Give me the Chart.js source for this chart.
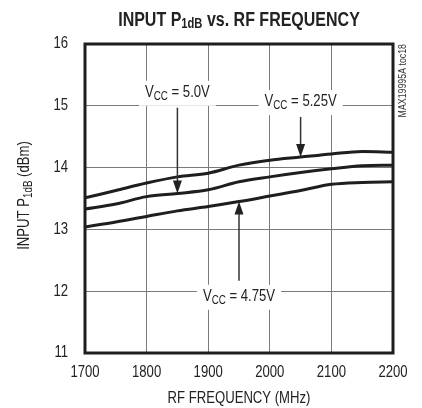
<!DOCTYPE html>
<html>
<head>
<meta charset="utf-8">
<script src="https://cdn.jsdelivr.net/npm/chart.js@4.4.1/dist/chart.umd.min.js"></script>
<style>
  html, body { margin: 0; padding: 0; background: #fff; }
  #wrap { width: 422px; height: 408px; position: relative; }
</style>
</head>
<body>
<div id="wrap"><canvas id="chart" width="422" height="408"></canvas></div>
<script>
// RF frequency (MHz) sample points
const freqs = [1700, 1750, 1800, 1850, 1900, 1950, 2000, 2050, 2100, 2150, 2200];

// Input P1dB (dBm) per supply voltage
const vcc525 = [13.51, 13.63, 13.75, 13.85, 13.91, 14.04, 14.12, 14.17, 14.22, 14.26, 14.25];
const vcc500 = [13.33, 13.41, 13.53, 13.58, 13.64, 13.77, 13.85, 13.92, 13.98, 14.03, 14.04];
const vcc475 = [13.04, 13.12, 13.21, 13.30, 13.37, 13.45, 13.54, 13.63, 13.73, 13.76, 13.77];

const xTicks = [1700, 1800, 1900, 2000, 2100, 2200];
const yTicks = [11, 12, 13, 14, 15, 16];

// label text, label position (data units), arrow start/end value at arrow x
const notes = [
  { main: ' = 5.0V',  x: 1850, y: 15.21, ax: 1850, from: 14.97, to: 13.58 },
  { main: ' = 5.25V', x: 2050, y: 15.06, ax: 2050, from: 14.82, to: 14.17 },
  { main: ' = 4.75V', x: 1950, y: 11.91, ax: 1950, from: 12.17, to: 13.45 }
];

const FONT = '"Liberation Sans", Arial, sans-serif';
const LINE = '#1e1e1e';
const SQ = 0.82; // horizontal squeeze to mimic a condensed face

function toPts(vals) {
  return freqs.map((f, i) => ({ x: f, y: vals[i] }));
}

// draws runs of [text, size, dy] squeezed horizontally; x is anchor per align
function runs(ctx, parts, x, y, align, bold, sq) {
  sq = sq || SQ;
  const w8 = bold ? 'bold ' : '';
  let w = 0;
  parts.forEach(p => { ctx.font = w8 + p[1] + 'px ' + FONT; w += ctx.measureText(p[0]).width; });
  ctx.save();
  ctx.translate(x, y);
  ctx.scale(sq, 1);
  let cx = align === 'center' ? -w / 2 : align === 'right' ? -w : 0;
  ctx.textAlign = 'left';
  ctx.textBaseline = 'middle';
  parts.forEach(p => {
    ctx.font = w8 + p[1] + 'px ' + FONT;
    ctx.fillText(p[0], cx, p[2] || 0);
    cx += ctx.measureText(p[0]).width;
  });
  ctx.restore();
  return w * sq;
}

const decor = {
  id: 'decor',
  afterDraw(chart) {
    const { ctx, chartArea: a, scales } = chart;
    const xs = scales.x, ys = scales.y;
    ctx.save();

    // frame
    ctx.strokeStyle = LINE;
    ctx.lineWidth = 3;
    ctx.strokeRect(a.left, a.top, a.right - a.left, a.bottom - a.top);

    ctx.fillStyle = '#222';
    // tick labels
    xTicks.forEach(v => runs(ctx, [[String(v), 16]], xs.getPixelForValue(v), 373, 'center'));
    yTicks.forEach(v => runs(ctx, [[String(v), 16]], 68, ys.getPixelForValue(v), 'right'));

    // annotations
    notes.forEach(n => {
      const px = xs.getPixelForValue(n.x);
      const py = ys.getPixelForValue(n.y);
      const parts = [['V', 16], ['CC', 12, 4], [n.main, 16]];
      let w = 0;
      parts.forEach(p => { ctx.font = p[1] + 'px ' + FONT; w += ctx.measureText(p[0]).width; });
      w *= SQ;
      ctx.fillStyle = '#fff';
      ctx.fillRect(px - w / 2 - 6, py - 12, w + 12, 25);
      ctx.fillStyle = '#222';
      runs(ctx, parts, px, py, 'center');

      // arrow
      const ax = xs.getPixelForValue(n.ax);
      const y0 = ys.getPixelForValue(n.from);
      const y1 = ys.getPixelForValue(n.to);
      const dir = y1 > y0 ? 1 : -1;
      ctx.strokeStyle = '#333';
      ctx.lineWidth = 1.5;
      ctx.beginPath();
      ctx.moveTo(ax, y0);
      ctx.lineTo(ax, y1 - dir * 10);
      ctx.stroke();
      ctx.beginPath();
      ctx.moveTo(ax, y1);
      ctx.lineTo(ax - 4.5, y1 - dir * 13);
      ctx.lineTo(ax + 4.5, y1 - dir * 13);
      ctx.closePath();
      ctx.fill();
    });

    const cx = (a.left + a.right) / 2;
    // title
    runs(ctx, [['INPUT P', 20], ['1dB', 14, 4], [' vs. RF FREQUENCY', 20]], cx, 20, 'center', true, 0.8);

    // x axis title
    runs(ctx, [['RF FREQUENCY (MHz)', 16]], cx, 399, 'center');

    // y axis title (rotated, with subscript)
    ctx.save();
    ctx.translate(25, (a.top + a.bottom) / 2 - 3);
    ctx.rotate(-Math.PI / 2);
    runs(ctx, [['INPUT P', 16], ['1dB', 12, 4], [' (dBm)', 16]], 0, 0, 'center');
    ctx.restore();

    // side code
    ctx.save();
    ctx.translate(a.right + 10, a.top);
    ctx.rotate(-Math.PI / 2);
    ctx.fillStyle = '#333';
    runs(ctx, [['MAX19995A toc18', 10]], 0, 0, 'right', false, 0.88);
    ctx.restore();

    ctx.restore();
  }
};

const series = [vcc525, vcc500, vcc475];

new Chart(document.getElementById('chart'), {
  type: 'line',
  data: {
    datasets: series.map(v => ({
      data: toPts(v),
      borderColor: LINE,
      borderWidth: 3,
      pointRadius: 0,
      fill: false,
      cubicInterpolationMode: 'monotone'
    }))
  },
  options: {
    responsive: false,
    animation: false,
    events: [],
    layout: { padding: { left: 0, top: 44, right: 29, bottom: 0 } },
    plugins: { legend: { display: false }, tooltip: { enabled: false }, title: { display: false } },
    scales: {
      x: {
        type: 'linear',
        min: 1700, max: 2200,
        afterBuildTicks: s => { s.ticks = xTicks.map(v => ({ value: v })); },
        afterFit: s => { s.height = 55; },
        grid: { color: '#7a7a7a', lineWidth: 1, drawTicks: false },
        border: { display: false },
        ticks: { display: false }
      },
      y: {
        min: 11, max: 16,
        afterBuildTicks: s => { s.ticks = yTicks.map(v => ({ value: v })); },
        afterFit: s => { s.width = 85; },
        grid: { color: '#7a7a7a', lineWidth: 1, drawTicks: false },
        border: { display: false },
        ticks: { display: false }
      }
    }
  },
  plugins: [decor]
});
</script>
</body>
</html>
